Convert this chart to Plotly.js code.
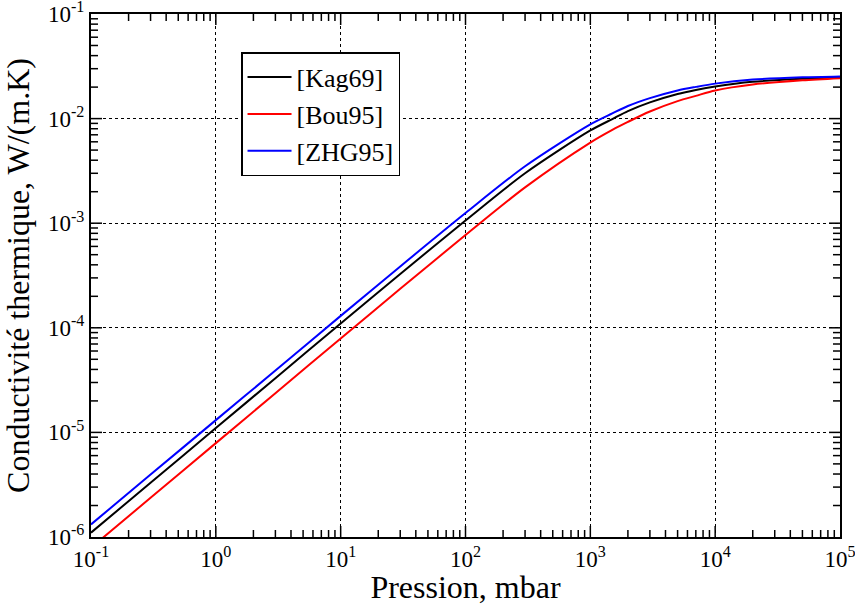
<!DOCTYPE html>
<html>
<head>
<meta charset="utf-8">
<script src="https://cdn.plot.ly/plotly-3.0.1.min.js"></script>
<style>html,body{margin:0;padding:0;background:#fff;}#plot{width:855px;height:605px;}</style>
</head>
<body>
<div id="plot"></div>
<script>
// Pressure (mbar)
const pression = [0.1, 0.3, 1, 3, 10, 30, 100, 300, 1000, 1500, 2000, 3000, 5000, 7000, 10000, 20000, 50000, 100000];
// Thermal conductivity W/(m.K)
const kag69 = [1.1e-6, 3.3e-6, 1.1e-5, 3.3e-5, 1.1e-4, 3.27e-4, 1.06e-3, 3.0e-3, 7.7e-3, 9.9e-3, 1.18e-2, 1.43e-2, 1.72e-2, 1.88e-2, 2.03e-2, 2.25e-2, 2.40e-2, 2.47e-2];
const bou95 = [7.9e-7, 2.37e-6, 7.9e-6, 2.37e-5, 7.9e-5, 2.36e-4, 7.7e-4, 2.2e-3, 5.9e-3, 7.8e-3, 9.3e-3, 1.17e-2, 1.47e-2, 1.65e-2, 1.86e-2, 2.12e-2, 2.32e-2, 2.43e-2];
const zhg95 = [1.32e-6, 3.95e-6, 1.31e-5, 3.9e-5, 1.3e-4, 3.86e-4, 1.25e-3, 3.5e-3, 8.8e-3, 1.12e-2, 1.32e-2, 1.57e-2, 1.86e-2, 2.01e-2, 2.16e-2, 2.36e-2, 2.48e-2, 2.53e-2];
const names = ['[Kag69]', '[Bou95]', '[ZHG95]'];
const colors = ['#000000', '#ff0000', '#0000ff'];

// decade exponents for tick labels
const xExp = [-1, 0, 1, 2, 3, 4, 5];
const yExp = [-6, -5, -4, -3, -2, -1];

const W = 855, H = 605, M = {l: 91, r: 15, t: 14, b: 68};
const font = 'Liberation Serif';

// decorative inside tick marks (mirrored), lengths given in pixels
const pxDecX = (W - M.l - M.r) / (xExp.length - 1);
const pxDecY = (H - M.t - M.b) / (yExp.length - 1);
function tickTrace() {
  const xs = [], ys = [];
  const xLo = Math.pow(10, xExp[0]), xHi = Math.pow(10, xExp[xExp.length - 1]);
  const yLo = Math.pow(10, yExp[0]), yHi = Math.pow(10, yExp[yExp.length - 1]);
  const addX = (v, len) => {
    const f = Math.pow(10, len / pxDecY);
    xs.push(v, v, null, v, v, null); ys.push(yLo, yLo * f, null, yHi, yHi / f, null);
  };
  const addY = (v, len) => {
    const f = Math.pow(10, len / pxDecX);
    ys.push(v, v, null, v, v, null); xs.push(xLo, xLo * f, null, xHi, xHi / f, null);
  };
  xExp.forEach((e, i) => {
    if (i > 0 && i < xExp.length - 1) addX(Math.pow(10, e), 11);
    if (i < xExp.length - 1) for (let m = 2; m <= 9; m++) addX(m * Math.pow(10, e), 7);
  });
  yExp.forEach((e, i) => {
    if (i > 0 && i < yExp.length - 1) addY(Math.pow(10, e), 11);
    if (i < yExp.length - 1) for (let m = 2; m <= 9; m++) addY(m * Math.pow(10, e), 7);
  });
  return {x: xs, y: ys, type: 'scatter', mode: 'lines', showlegend: false, hoverinfo: 'skip',
          line: {color: '#000', width: 1.5}, connectgaps: false};
}

const series = [kag69, bou95, zhg95];
const traces = [tickTrace()].concat(series.map((s, i) => ({
  x: pression, y: s, name: names[i], type: 'scatter', mode: 'lines',
  line: {color: colors[i], width: 2, shape: 'spline', smoothing: 0.8}
})));

const axisCommon = {
  type: 'log', showline: true, linecolor: '#000', linewidth: 2, mirror: true,
  ticks: '', showgrid: true, gridcolor: '#000', griddash: 'dot', gridwidth: 1,
  zeroline: false, tickmode: 'array', ticklabeloverflow: 'allow', automargin: false,
  tickfont: {family: font, size: 23, color: '#000'}
};

const layout = {
  width: W, height: H,
  margin: M,
  showlegend: true,
  legend: {
    x: 0.2003, y: 0.927, xanchor: 'left', yanchor: 'top',
    bgcolor: '#fff', bordercolor: '#000', borderwidth: 1.5,
    itemwidth: 44,
    font: {family: font, size: 26, color: '#000'}
  },
  xaxis: Object.assign({}, axisCommon, {
    range: [xExp[0], xExp[xExp.length - 1]], tickvals: xExp.map(e => Math.pow(10, e)), ticktext: xExp.map(e => '10<sup>' + e + '</sup>'),
    title: {text: 'Pression, mbar', font: {family: font, size: 32, color: '#000'}}
  }),
  yaxis: Object.assign({}, axisCommon, {
    range: [yExp[0], yExp[yExp.length - 1]], tickvals: yExp.map(e => Math.pow(10, e)), ticktext: yExp.map(e => '10<sup>' + e + '</sup>'),
    title: {text: 'Conductivité thermique, W/(m.K)', font: {family: font, size: 32, color: '#000'}}
  })
};

Plotly.newPlot('plot', traces, layout, {staticPlot: true, displayModeBar: false});
</script>
</body>
</html>
